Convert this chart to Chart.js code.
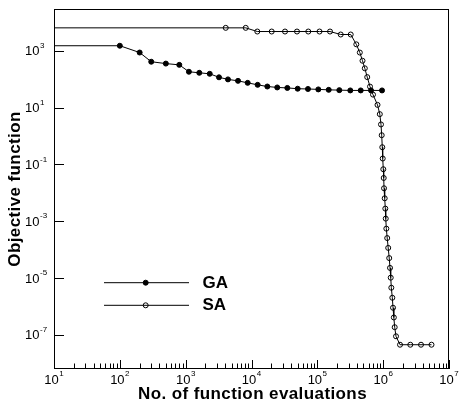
<!DOCTYPE html>
<html>
<head>
<meta charset="utf-8">
<script src="https://cdn.jsdelivr.net/npm/chart.js@4/dist/chart.umd.min.js"></script>
<style>
    body { margin: 0; background: #fff; }
    #wrap { width: 459px; height: 408px; }
</style>
</head>
<body>
<div id="wrap"><canvas id="objectiveChart" width="459" height="408"></canvas></div>
<script>
// GA: first entry is where the line leaves the left axis (no marker)
const gaEvals = [10, 100, 200, 300, 500, 800, 1120, 1610, 2320, 3210, 4390, 6240, 8750, 12400, 17400,
    24600, 35000, 50300, 72100, 103500, 148900, 215800, 316800, 456000, 654000, 961000]
const gaObjective = [1500, 1500, 865, 410, 353, 318, 182, 167, 154, 116, 98, 87, 74, 63, 55,
    51, 49, 46, 45, 43.5, 42, 41, 40, 40, 40, 40]

// SA: same, first entry sits on the left axis
const saEvals = [10, 4060, 8170, 12250, 20270, 32290, 49100, 72900, 107900, 155900, 226600, 321400,
    391000, 441700, 485600, 526000, 572500, 631000, 701000, 820600, 889000, 927000, 950000, 970000,
    984000, 1005000, 1019000, 1031000, 1055000, 1078000, 1094000, 1117000, 1152000, 1193000, 1236000,
    1271000, 1303000, 1330000, 1377000, 1412000, 1452000, 1497000, 1567000, 1803000, 2583000, 3756000, 5420000]
const saObjective = [6400, 6400, 6400, 4750, 4750, 4750, 4750, 4750, 4750, 4750, 3730, 3730,
    1680, 864, 444, 241, 118, 54.6, 28.5, 12.4, 5.85, 2.54, 1.06, 0.40,
    0.160, 0.0672, 0.0331, 0.01435, 0.00637, 0.00276, 0.001225, 5.43e-4, 2.53e-4, 1.14e-4, 4.99e-5,
    2.25e-5, 1.02e-5, 4.51e-6, 2.0e-6, 8.9e-7, 4.05e-7, 1.84e-7, 8.8e-8, 4.44e-8, 4.44e-8, 4.44e-8, 4.44e-8]

const xTickPowers = [1, 2, 3, 4, 5, 6, 7]
const yTickPowers = [3, 1, -1, -3, -5, -7]
const seriesNames = ["GA", "SA"]
const xTitle = "No. of function evaluations"
const yTitle = "Objective function"

const FONT = "'Liberation Sans', Arial, sans-serif"

const toPoints = (xs, ys) => xs.map((x, i) => ({ x: x, y: ys[i] }))

const drawMarker = (ctx, x, y, filled) => {
    ctx.beginPath()
    ctx.arc(x, y, 2.5, 0, Math.PI * 2)
    if (filled) {
        ctx.fillStyle = "#000"
        ctx.fill()
    }
    ctx.lineWidth = 1
    ctx.strokeStyle = "#000"
    ctx.stroke()
}

const drawPow = (ctx, exp, x, y, align) => {
    ctx.font = "13px " + FONT
    const w10 = ctx.measureText("10").width
    ctx.font = "8px " + FONT
    const wExp = ctx.measureText(String(exp)).width
    let start
    if (align == "center") start = x - (w10 + wExp + 0.5) / 2
    else start = x - w10
    ctx.fillStyle = "#000"
    ctx.textAlign = "left"
    ctx.textBaseline = "alphabetic"
    ctx.font = "13px " + FONT
    ctx.fillText("10", start, y)
    ctx.font = "8px " + FONT
    ctx.fillText(String(exp), start + w10 + 0.5, y - 7.5)
}

const axesPlugin = {
    id: "axesPlugin",
    afterDraw(chart) {
        const ctx = chart.ctx
        const xs = chart.scales.x
        const ys = chart.scales.y
        const a = chart.chartArea
        ctx.save()

        // frame
        ctx.strokeStyle = "#000"
        ctx.lineWidth = 1
        ctx.strokeRect(Math.round(a.left) + 0.5, Math.round(a.top) + 0.5,
            Math.round(a.right - a.left) - 1, Math.round(a.bottom - a.top) - 1)

        // x ticks, major and minor, pointing in
        ctx.beginPath()
        xTickPowers.forEach(p => {
            for (let m = 1; m <= 9; m++) {
                if (p == 7 && m > 1) break
                const px = Math.round(xs.getPixelForValue(m * Math.pow(10, p))) + 0.5
                const len = m == 1 ? 9 : 5.5
                ctx.moveTo(px, a.bottom)
                ctx.lineTo(px, a.bottom - len)
            }
        })
        // y ticks
        yTickPowers.forEach(p => {
            const py = Math.round(ys.getPixelForValue(Math.pow(10, p))) + 0.5
            ctx.moveTo(a.left, py)
            ctx.lineTo(a.left + 10, py)
        })
        ctx.stroke()

        xTickPowers.forEach(p => drawPow(ctx, p, xs.getPixelForValue(Math.pow(10, p)), a.bottom + 14.7, "center"))
        yTickPowers.forEach(p => drawPow(ctx, p, a.left - 14.5, ys.getPixelForValue(Math.pow(10, p)) + 4.7, "right"))

        // axis titles
        ctx.font = "bold 17px " + FONT
        ctx.letterSpacing = "0.4px"
        ctx.fillStyle = "#000"
        ctx.textAlign = "center"
        ctx.fillText(xTitle, (a.left + a.right) / 2 + 1, a.bottom + 30.3)
        ctx.save()
        ctx.translate(20, (a.top + a.bottom) / 2)
        ctx.rotate(-Math.PI / 2)
        ctx.fillText(yTitle, 0, 0)
        ctx.restore()
        ctx.letterSpacing = "0px"

        // legend
        seriesNames.forEach((name, i) => {
            const y = 282.7 + i * 22.6
            ctx.beginPath()
            ctx.strokeStyle = "#000"
            ctx.lineWidth = 1
            ctx.moveTo(104, y)
            ctx.lineTo(189, y)
            ctx.stroke()
            drawMarker(ctx, 145.7, y, i == 0)
            ctx.font = "bold 17px " + FONT
            ctx.fillStyle = "#000"
            ctx.textAlign = "left"
            ctx.fillText(name, 202.5, y + 5)
        })
        ctx.restore()
    }
}

new Chart(document.getElementById("objectiveChart"), {
    type: "line",
    data: {
        datasets: [{
            label: seriesNames[0],
            data: toPoints(gaEvals, gaObjective),
            borderColor: "#000",
            borderWidth: 1,
            pointRadius: c => c.dataIndex == 0 ? 0 : 2.5,
            pointBackgroundColor: "#000",
            pointBorderColor: "#000",
            pointBorderWidth: 1
        }, {
            label: seriesNames[1],
            data: toPoints(saEvals, saObjective),
            borderColor: "#000",
            borderWidth: 1,
            pointRadius: c => c.dataIndex == 0 ? 0 : 2.5,
            pointBackgroundColor: "rgba(0,0,0,0)",
            pointBorderColor: "#000",
            pointBorderWidth: 1
        }]
    },
    options: {
        responsive: false,
        animation: false,
        events: [],
        layout: { padding: { left: 54, top: 9, right: 10, bottom: 39 } },
        scales: {
            x: { type: "logarithmic", min: 10, max: 1e7, bounds: "data", display: false },
            y: { type: "logarithmic", min: 6.2e-9, max: 2.95e4, bounds: "data", display: false }
        },
        plugins: {
            legend: { display: false },
            tooltip: { enabled: false }
        }
    },
    plugins: [axesPlugin]
});
</script>
</body>
</html>
